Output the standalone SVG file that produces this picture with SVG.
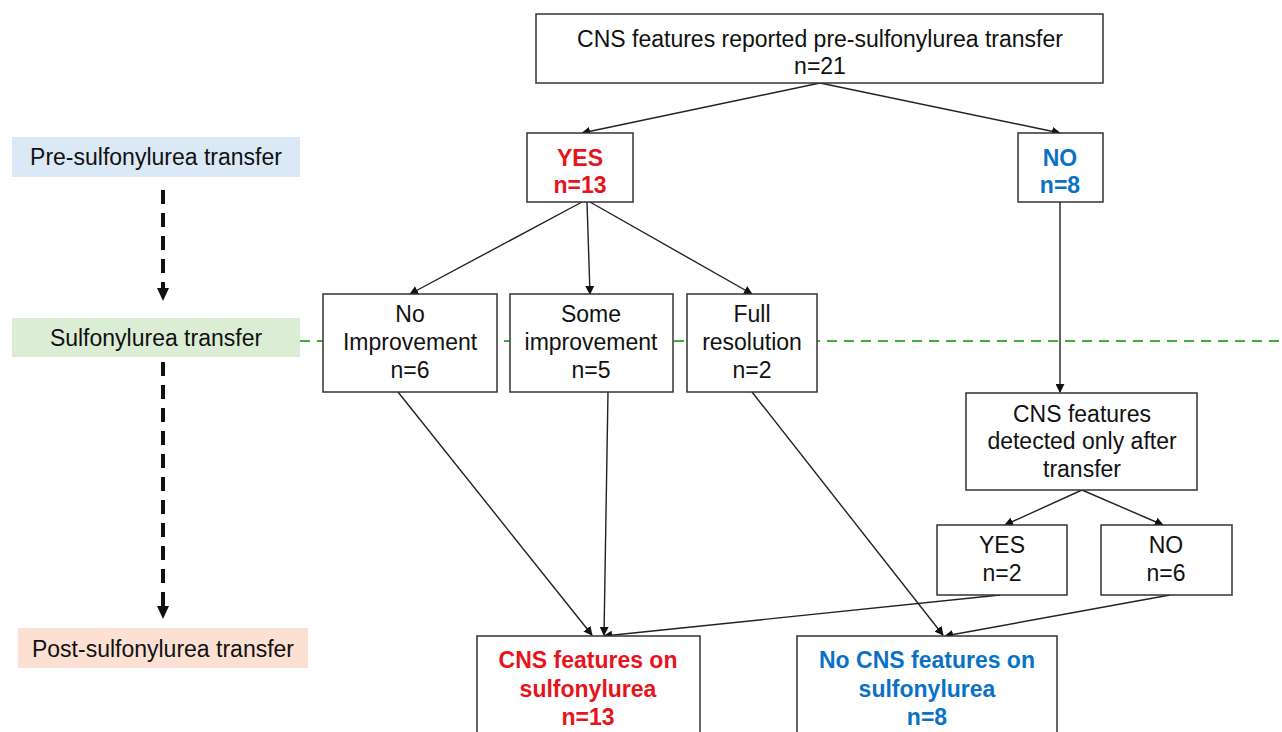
<svg xmlns="http://www.w3.org/2000/svg" width="1282" height="732" viewBox="0 0 1282 732">
<defs>
<marker id="ah" viewBox="0 0 10 10" refX="9" refY="5" markerWidth="9" markerHeight="9" markerUnits="userSpaceOnUse" orient="auto"><path d="M0,0 L10,5 L0,10 z" fill="#111"/></marker>
<style>
.box{fill:#fff;stroke:#333;stroke-width:1.5}
.t{font-family:"Liberation Sans",Arial,sans-serif;font-size:23px;fill:#111;text-anchor:middle}
.red{fill:#e8141c;font-weight:bold}
.blue{fill:#0a72c4;font-weight:bold}
.c{stroke:#222;stroke-width:1.4;fill:none;marker-end:url(#ah)}
.lbl{font-family:"Liberation Sans",Arial,sans-serif;font-size:23px;fill:#111;text-anchor:middle}
</style>
</defs>
<rect width="1282" height="732" fill="#fff"/>

<g id="stage-labels">
<rect x="12" y="137" width="288" height="40" fill="#dbe9f6"/>
<text class="lbl" x="156" y="165">Pre-sulfonylurea transfer</text>
<rect x="12" y="318" width="288" height="39" fill="#dcedd6"/>
<text class="lbl" x="156" y="346">Sulfonylurea transfer</text>
<rect x="18" y="628" width="290" height="40" fill="#fbe0d3"/>
<text class="lbl" x="163" y="657">Post-sulfonylurea transfer</text>
</g>

<g id="timeline">
<line x1="163" y1="190" x2="163" y2="290" stroke="#111" stroke-width="4" stroke-dasharray="14 9"/>
<path d="M157,288 L169,288 L163,301 z" fill="#111"/>
<line x1="163" y1="362" x2="163" y2="608" stroke="#111" stroke-width="4" stroke-dasharray="14 9"/>
<path d="M157,606 L169,606 L163,619 z" fill="#111"/>
<line x1="300" y1="341" x2="1282" y2="341" stroke="#3fae3a" stroke-width="2" stroke-dasharray="10 7"/>
</g>

<g id="connectors">
<line class="c" x1="820" y1="83" x2="582" y2="133"/>
<line class="c" x1="820" y1="83" x2="1060" y2="133"/>
<line class="c" x1="582" y1="202" x2="410" y2="294"/>
<line class="c" x1="587" y1="202" x2="590" y2="294"/>
<line class="c" x1="590" y1="202" x2="752" y2="294"/>
<line class="c" x1="1060" y1="202" x2="1060" y2="392"/>
<line class="c" x1="1082" y1="490" x2="1005" y2="525"/>
<line class="c" x1="1082" y1="490" x2="1163" y2="525"/>
<line class="c" x1="398" y1="392" x2="592" y2="635"/>
<line class="c" x1="608" y1="392" x2="604" y2="635"/>
<line class="c" x1="752" y1="392" x2="943" y2="635"/>
<line class="c" x1="1000" y1="595" x2="604" y2="636"/>
<line class="c" x1="1170" y1="595" x2="945" y2="636"/>
</g>

<g id="n-top">
<rect class="box" x="536" y="14" width="567" height="69"/>
<text class="t" x="820" y="47">CNS features reported pre-sulfonylurea transfer</text>
<text class="t" x="820" y="74">n=21</text>
</g>
<g id="n-yes">
<rect class="box" x="527" y="133" width="106" height="69"/>
<text class="t red" x="580" y="166">YES</text>
<text class="t red" x="580" y="193">n=13</text>
</g>
<g id="n-no">
<rect class="box" x="1018" y="133" width="85" height="69"/>
<text class="t blue" x="1060" y="166">NO</text>
<text class="t blue" x="1060" y="193">n=8</text>
</g>
<g id="n-noimp">
<rect class="box" x="323" y="294" width="174" height="98"/>
<text class="t" x="410" y="322">No</text>
<text class="t" x="410" y="350">Improvement</text>
<text class="t" x="410" y="378">n=6</text>
</g>
<g id="n-someimp">
<rect class="box" x="510" y="294" width="163" height="98"/>
<text class="t" x="591" y="322">Some</text>
<text class="t" x="591" y="350">improvement</text>
<text class="t" x="591" y="378">n=5</text>
</g>
<g id="n-full">
<rect class="box" x="687" y="294" width="130" height="98"/>
<text class="t" x="752" y="322">Full</text>
<text class="t" x="752" y="350">resolution</text>
<text class="t" x="752" y="378">n=2</text>
</g>
<g id="n-detected">
<rect class="box" x="966" y="393" width="231" height="97"/>
<text class="t" x="1082" y="422">CNS features</text>
<text class="t" x="1082" y="449">detected only after</text>
<text class="t" x="1082" y="477">transfer</text>
</g>
<g id="n-yes2">
<rect class="box" x="937" y="525" width="130" height="70"/>
<text class="t" x="1002" y="553">YES</text>
<text class="t" x="1002" y="581">n=2</text>
</g>
<g id="n-no6">
<rect class="box" x="1101" y="525" width="131" height="70"/>
<text class="t" x="1166" y="553">NO</text>
<text class="t" x="1166" y="581">n=6</text>
</g>
<g id="n-cns-on">
<rect class="box" x="477" y="636" width="223" height="110"/>
<text class="t red" x="588" y="668">CNS features on</text>
<text class="t red" x="588" y="697">sulfonylurea</text>
<text class="t red" x="588" y="725">n=13</text>
</g>
<g id="n-nocns-on">
<rect class="box" x="797" y="636" width="260" height="110"/>
<text class="t blue" x="927" y="668">No CNS features on</text>
<text class="t blue" x="927" y="697">sulfonylurea</text>
<text class="t blue" x="927" y="725">n=8</text>
</g>
</svg>
